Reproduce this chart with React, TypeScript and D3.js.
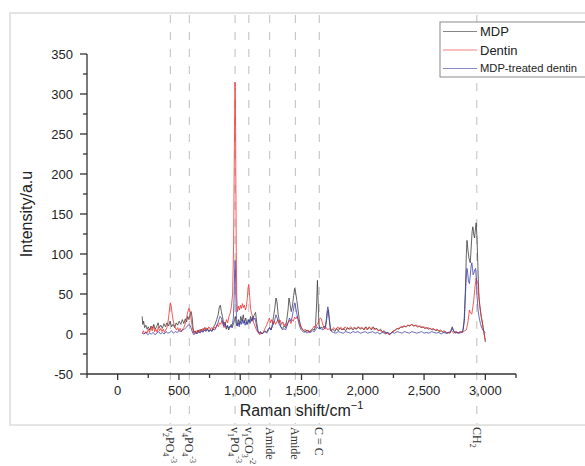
import React from 'react';
import * as d3 from 'd3';

type Pt = [number, number];

// Raman spectra: [shift cm^-1, intensity]
const mdp: Pt[] = [
  [200, 22], [205, 12], [212, 16], [220, 8], [230, 11], [240, 6], [250, 9], [262, 5], [272, 10], [282, 7],
  [295, 12], [305, 6], [318, 9], [330, 14], [340, 8], [352, 11], [365, 7], [378, 13], [390, 9], [402, 14],
  [415, 10], [428, 16], [440, 9], [452, 12], [465, 8], [478, 14], [490, 11], [502, 16], [515, 12], [528, 18],
  [540, 13], [552, 19], [562, 15], [572, 22], [582, 18], [592, 26], [600, 28], [608, 20], [615, 8], [622, 2],
  [632, 4], [645, 1], [658, 5], [670, 2], [682, 6], [695, 3], [708, 8], [720, 4], [732, 7], [745, 3],
  [758, 6], [770, 4], [782, 9], [795, 12], [808, 18], [820, 24], [830, 34], [838, 36], [846, 28], [855, 22],
  [866, 12], [876, 15], [886, 6], [896, 10], [906, 5], [916, 9], [926, 12], [936, 8], [946, 14], [954, 18],
  [960, 22], [966, 14], [975, 10], [985, 18], [995, 12], [1005, 22], [1015, 16], [1025, 24], [1035, 14], [1045, 20],
  [1055, 12], [1065, 18], [1075, 15], [1085, 22], [1095, 16], [1105, 20], [1115, 24], [1125, 27], [1135, 14], [1145, 4],
  [1155, 1], [1165, 3], [1178, 0], [1190, 2], [1202, 4], [1215, 2], [1228, 6], [1240, 8], [1252, 5], [1262, 12],
  [1272, 22], [1282, 32], [1292, 45], [1300, 40], [1310, 24], [1320, 16], [1332, 9], [1345, 7], [1358, 10], [1370, 8],
  [1380, 18], [1390, 30], [1398, 45], [1406, 38], [1416, 28], [1426, 35], [1436, 48], [1444, 57], [1452, 52], [1462, 42],
  [1472, 30], [1482, 18], [1492, 10], [1505, 6], [1518, 4], [1530, 3], [1545, 5], [1560, 2], [1575, 4], [1590, 6],
  [1605, 5], [1615, 12], [1624, 40], [1630, 67], [1636, 40], [1642, 12], [1650, 6], [1660, 9], [1672, 7], [1685, 10],
  [1695, 8], [1705, 18], [1712, 28], [1718, 30], [1726, 20], [1735, 8], [1745, 4], [1758, 6], [1772, 3], [1786, 7],
  [1800, 4], [1815, 8], [1830, 5], [1845, 7], [1860, 4], [1875, 8], [1890, 6], [1905, 7], [1920, 5], [1935, 8],
  [1950, 6], [1965, 9], [1980, 6], [1995, 8], [2010, 5], [2025, 9], [2040, 6], [2055, 8], [2070, 5], [2085, 9],
  [2100, 6], [2115, 7], [2130, 4], [2145, 6], [2160, 3], [2175, 4], [2190, 1], [2205, 2], [2220, -1], [2235, 2],
  [2250, 4], [2265, 5], [2280, 7], [2295, 6], [2310, 9], [2325, 8], [2340, 10], [2355, 9], [2370, 11], [2385, 10],
  [2400, 12], [2415, 10], [2430, 11], [2445, 9], [2460, 10], [2475, 8], [2490, 9], [2505, 7], [2520, 8], [2535, 6],
  [2550, 7], [2565, 5], [2580, 6], [2595, 4], [2610, 5], [2625, 3], [2640, 4], [2655, 2], [2670, 3], [2685, 1],
  [2700, 2], [2712, 1], [2722, 6], [2730, 9], [2738, 5], [2750, 2], [2765, 3], [2780, 1], [2795, 3], [2810, 2],
  [2820, 6], [2830, 20], [2838, 60], [2845, 100], [2850, 117], [2858, 105], [2866, 95], [2877, 89], [2885, 110], [2892, 128],
  [2898, 134], [2905, 125], [2912, 120], [2918, 130], [2925, 139], [2932, 120], [2940, 80], [2947, 47], [2955, 35], [2966, 22],
  [2975, 15], [2982, 8], [2988, 3], [2995, -4], [3000, -10],
];

const dentin: Pt[] = [
  [200, 1], [210, 4], [220, 0], [230, 3], [240, 1], [250, 6], [260, 2], [272, 8], [282, 4], [292, 10],
  [302, 3], [312, 6], [322, 2], [332, 9], [342, 4], [352, 7], [362, 3], [372, 6], [382, 2], [392, 5],
  [402, 8], [410, 14], [418, 24], [425, 34], [430, 39], [436, 36], [444, 26], [452, 18], [460, 12], [470, 8],
  [480, 5], [490, 8], [500, 4], [510, 7], [520, 3], [530, 6], [540, 8], [550, 12], [560, 18], [570, 26],
  [580, 32], [588, 30], [596, 22], [604, 14], [612, 6], [620, 1], [630, 3], [640, 0], [650, 5], [660, 2],
  [672, 6], [684, 3], [696, 7], [708, 4], [720, 8], [732, 5], [744, 9], [756, 6], [768, 8], [780, 5],
  [790, 9], [800, 7], [812, 12], [822, 9], [832, 14], [842, 12], [850, 17], [858, 13], [868, 8], [878, 12],
  [888, 18], [898, 14], [908, 22], [918, 26], [928, 34], [938, 50], [946, 110], [952, 230], [956, 300], [958, 315],
  [961, 290], [964, 200], [968, 100], [972, 45], [978, 28], [986, 35], [994, 30], [1002, 36], [1010, 32], [1018, 38],
  [1026, 33], [1034, 36], [1042, 30], [1050, 34], [1058, 45], [1064, 58], [1070, 62], [1076, 50], [1084, 32], [1092, 26],
  [1100, 22], [1110, 14], [1120, 10], [1130, 6], [1140, 3], [1150, 1], [1160, -1], [1170, 2], [1182, 0], [1194, 4],
  [1206, 8], [1218, 12], [1228, 16], [1238, 20], [1248, 14], [1258, 18], [1268, 12], [1278, 16], [1288, 12], [1298, 15],
  [1308, 18], [1318, 14], [1328, 17], [1338, 12], [1348, 15], [1358, 10], [1368, 13], [1378, 10], [1390, 14], [1402, 17],
  [1414, 13], [1424, 18], [1434, 16], [1444, 21], [1454, 19], [1464, 22], [1474, 18], [1484, 14], [1494, 10], [1505, 7],
  [1518, 4], [1530, 6], [1542, 3], [1555, 5], [1568, 2], [1580, 5], [1592, 7], [1604, 10], [1616, 8], [1626, 12],
  [1636, 14], [1646, 18], [1654, 20], [1662, 19], [1670, 14], [1680, 9], [1690, 6], [1702, 8], [1714, 5], [1726, 7],
  [1738, 4], [1750, 6], [1765, 8], [1780, 5], [1795, 9], [1810, 6], [1825, 8], [1840, 5], [1855, 9], [1870, 7],
  [1885, 6], [1900, 9], [1915, 7], [1930, 8], [1945, 6], [1960, 9], [1975, 7], [1990, 8], [2005, 6], [2020, 8],
  [2035, 5], [2050, 9], [2065, 7], [2080, 8], [2095, 5], [2110, 7], [2125, 4], [2140, 5], [2155, 2], [2170, 3],
  [2185, 0], [2200, 1], [2215, -1], [2230, 1], [2245, 3], [2260, 4], [2275, 6], [2290, 7], [2305, 8], [2320, 9],
  [2335, 10], [2350, 9], [2365, 11], [2380, 10], [2395, 12], [2410, 11], [2425, 10], [2440, 11], [2455, 9], [2470, 10],
  [2485, 8], [2500, 9], [2515, 7], [2530, 8], [2545, 7], [2560, 6], [2575, 7], [2590, 5], [2605, 6], [2620, 4],
  [2635, 5], [2650, 3], [2665, 4], [2680, 2], [2695, 1], [2710, 2], [2725, 4], [2740, 1], [2755, 3], [2770, 1],
  [2785, 2], [2800, 3], [2815, 2], [2830, 4], [2845, 5], [2858, 15], [2870, 30], [2880, 26], [2890, 25], [2898, 34],
  [2905, 42], [2915, 58], [2925, 70], [2932, 66], [2940, 63], [2950, 42], [2960, 28], [2966, 22], [2975, 14], [2985, 4],
  [2992, -2], [3000, -8],
];

const treated: Pt[] = [
  [200, 1], [215, 0], [230, 2], [245, -1], [260, 1], [275, 0], [290, 2], [305, -1], [320, 1], [335, 3],
  [350, 0], [365, 2], [380, 0], [395, 3], [410, 1], [425, 2], [440, 4], [455, 1], [470, 3], [485, 2],
  [500, 4], [515, 3], [530, 5], [545, 6], [558, 8], [570, 10], [580, 12], [590, 11], [598, 8], [606, 4],
  [614, 1], [622, -1], [635, 2], [648, 0], [660, 3], [672, 1], [684, 4], [696, 2], [708, 5], [720, 3],
  [732, 6], [744, 3], [756, 5], [768, 3], [780, 6], [792, 5], [804, 9], [815, 12], [826, 18], [836, 22],
  [846, 20], [856, 15], [866, 10], [876, 13], [886, 8], [896, 11], [906, 7], [916, 10], [926, 8], [936, 12],
  [944, 20], [950, 45], [955, 80], [958, 92], [961, 80], [965, 45], [970, 18], [976, 10], [984, 14], [992, 9],
  [1000, 16], [1008, 12], [1016, 18], [1024, 13], [1032, 17], [1040, 11], [1048, 15], [1056, 12], [1064, 14], [1072, 18],
  [1080, 13], [1088, 19], [1096, 16], [1104, 22], [1112, 18], [1120, 20], [1128, 14], [1136, 8], [1145, 3], [1155, 1],
  [1165, 2], [1178, 0], [1190, 2], [1202, 3], [1215, 1], [1228, 4], [1240, 8], [1250, 5], [1262, 9], [1272, 14],
  [1282, 18], [1292, 24], [1302, 20], [1312, 14], [1322, 11], [1334, 8], [1346, 5], [1358, 7], [1370, 5], [1382, 10],
  [1392, 15], [1402, 20], [1412, 16], [1422, 20], [1432, 28], [1440, 36], [1446, 39], [1454, 32], [1464, 24], [1474, 16],
  [1484, 10], [1494, 6], [1506, 4], [1518, 2], [1530, 3], [1545, 1], [1560, 3], [1575, 2], [1590, 4], [1605, 3],
  [1618, 6], [1628, 9], [1638, 7], [1650, 8], [1662, 6], [1674, 5], [1686, 7], [1696, 10], [1704, 20], [1710, 30],
  [1715, 34], [1720, 30], [1728, 16], [1736, 6], [1745, 3], [1760, 2], [1780, 1], [1800, 3], [1820, 2], [1840, 1],
  [1860, 3], [1880, 2], [1900, 1], [1920, 3], [1940, 2], [1960, 3], [1980, 1], [2000, 2], [2020, 3], [2040, 1],
  [2060, 2], [2080, 3], [2100, 1], [2120, 2], [2140, 0], [2160, 2], [2180, 1], [2200, 2], [2220, 0], [2240, 2],
  [2260, 1], [2280, 3], [2300, 2], [2320, 1], [2340, 3], [2360, 2], [2380, 1], [2400, 3], [2420, 2], [2440, 1],
  [2460, 2], [2480, 3], [2500, 1], [2520, 2], [2540, 1], [2560, 3], [2580, 2], [2600, 1], [2620, 2], [2640, 0],
  [2660, 2], [2680, 1], [2700, 2], [2715, 3], [2725, 5], [2732, 7], [2740, 4], [2752, 1], [2770, 2], [2790, 1],
  [2805, 2], [2815, 3], [2826, 15], [2834, 40], [2838, 51], [2844, 70], [2850, 82], [2856, 76], [2862, 66], [2870, 63],
  [2878, 75], [2884, 85], [2890, 89], [2895, 82], [2900, 74], [2906, 76], [2913, 80], [2920, 82], [2926, 70], [2932, 48],
  [2940, 30], [2950, 20], [2960, 13], [2970, 8], [2980, 5], [2990, 3], [2995, 2], [3000, 2],
];

const seriesNames = ['MDP', 'Dentin', 'MDP-treated dentin'];
const seriesColors = ['#333333', '#f02828', '#3a3aa8'];

// band assignments (dashed markers)
const bandShifts = [430, 585, 958, 1070, 1240, 1450, 1645, 2930];
const bandLabels: [string, string, string, string, string][] = [
  // [base, sub1, mid, sub2, sup]
  ['v', '2', 'PO', '4', '-3'],
  ['v', '4', 'PO', '4', '-3'],
  ['v', '1', 'PO', '4', '-3'],
  ['v', '1', 'CO', '3', '-2'],
  ['Amide', '', '', '', ''],
  ['Amide', '', '', '', ''],
  ['C = C', '', '', '', ''],
  ['CH', '2', '', '', ''],
];

const W = 585;
const H = 466;
const sans = 'Arial, "Liberation Sans", sans-serif';
const serif = '"Times New Roman", "Liberation Serif", serif';

export default function App() {
  const x = d3.scaleLinear().domain([-250, 3250]).range([87, 516]);
  const y = d3.scaleLinear().domain([-50, 350]).range([374, 54]);

  const line = d3.line<Pt>().x(d => x(d[0])).y(d => y(d[1]));

  const xMajor = d3.range(0, 3001, 500);
  const xMinor = d3.range(-250, 3251, 250).filter(v => v % 500 !== 0);
  const yMajor = d3.range(-50, 351, 50);
  const yMinor = d3.range(-25, 351, 50);
  const fmt = d3.format(',');

  const data = [mdp, dentin, treated];
  const [x0, x1] = x.range();
  const [yb, yt] = y.range();

  return (
    <svg width={W} height={H} style={{ position: 'absolute', left: 0, top: 0, background: '#fff' }}>
      <rect x={10} y={13} width={W} height={412} fill="none" stroke="#dcdcdc" strokeWidth={1.5} />

      {bandShifts.map((b, i) => (
        <line key={'d' + i} x1={x(b)} x2={x(b)} y1={15} y2={424}
          stroke="#c4c4c4" strokeWidth={1.1} strokeDasharray="8,9" />
      ))}

      {data.map((d, i) => (
        <path key={'s' + i} d={line(d) || ''} fill="none" stroke={seriesColors[i]}
          strokeWidth={0.9} strokeOpacity={0.85} strokeLinejoin="round" />
      ))}

      {/* axes */}
      <g stroke="#333" strokeWidth={1.3} fill="none">
        <line x1={x0} x2={x1} y1={yb} y2={yb} />
        <line x1={x0} x2={x0} y1={yb} y2={yt} />
        {xMajor.map(v => <line key={'xm' + v} x1={x(v)} x2={x(v)} y1={yb} y2={yb + 6} />)}
        {xMinor.map(v => <line key={'xn' + v} x1={x(v)} x2={x(v)} y1={yb} y2={yb + 4} />)}
        {yMajor.map(v => <line key={'ym' + v} x1={x0} x2={x0 - 7} y1={y(v)} y2={y(v)} />)}
        {yMinor.map(v => <line key={'yn' + v} x1={x0} x2={x0 - 4} y1={y(v)} y2={y(v)} />)}
      </g>
      <g fontFamily={sans} fontSize={13} fill="#222">
        {xMajor.map(v => (
          <text key={'xt' + v} x={x(v)} y={395} textAnchor="middle">{fmt(v)}</text>
        ))}
        {yMajor.map(v => (
          <text key={'yt' + v} x={73} y={y(v)} dy="0.35em" textAnchor="end">{v}</text>
        ))}
      </g>
      <text x={(x0 + x1) / 2} y={416} textAnchor="middle" fontFamily={sans} fontSize={16} fill="#222">
        Raman shift/cm<tspan fontSize={11} dy={-7}>−1</tspan>
      </text>
      <text transform={`translate(32,${(yb + yt) / 2}) rotate(-90)`} textAnchor="middle"
        fontFamily={sans} fontSize={16} fill="#222">Intensity/a.u</text>

      {/* band labels below the frame, rotated; sub/superscripts via dy */}
      <g fontFamily={serif} fontSize={12} fill="#333">
        {bandShifts.map((b, i) => {
          const [base, s1, mid, s2, sup] = bandLabels[i];
          return (
            <text key={'bl' + i} transform={`translate(${x(b) - 4},427) rotate(90)`}>
              {base}
              {s1 && <tspan fontSize={8} dy={3}>{s1}</tspan>}
              {mid && <tspan dy={-3}>{mid}</tspan>}
              {s2 && <tspan fontSize={8} dy={3}>{s2}</tspan>}
              {sup && <tspan fontSize={8} dy={-8}>{sup}</tspan>}
            </text>
          );
        })}
      </g>

      {/* legend */}
      <rect x={440} y={22} width={160} height={55} fill="#fff" stroke="#8a8a8a" strokeWidth={1} />
      {seriesNames.map((n, i) => (
        <g key={'lg' + i} transform={`translate(0,${31.5 + i * 18.5})`}>
          <line x1={443} x2={477} y1={0} y2={0} stroke={seriesColors[i]} strokeOpacity={0.6} strokeWidth={1} />
          <text x={480} y={0} dy="0.35em" fontFamily={sans} fontSize={n.length > 10 ? 11.2 : 13}
            fill="#222">{n}</text>
        </g>
      ))}
    </svg>
  );
}
